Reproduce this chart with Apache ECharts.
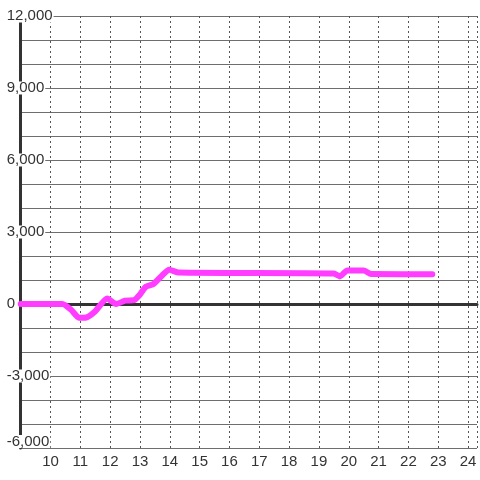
<!DOCTYPE html>
<html><head><meta charset="utf-8">
<script src="https://cdn.jsdelivr.net/npm/echarts@6/dist/echarts.min.js"></script>
<style>html,body{margin:0;padding:0;background:#fff}#c{width:480px;height:480px}</style>
</head><body><div id="c"></div>
<script>
var hours = [9, 10.4, 10.7, 10.95, 11.2, 11.5, 11.9, 12.2, 12.5, 12.8, 13.0, 13.2, 13.45, 13.75, 13.98, 14.3, 19.5, 19.7, 19.95, 20.5, 20.75, 22.8];
var values = [0, 0, -250, -570, -560, -300, 230, 0, 140, 160, 400, 720, 830, 1200, 1430, 1310, 1270, 1150, 1400, 1400, 1250, 1240];
var xTicks = [10,11,12,13,14,15,16,17,18,19,20,21,22,23,24];
var yTicks = [-6000,-3000,0,3000,6000,9000,12000];

var font = 'Liberation Sans, Arial, sans-serif';
var chart = echarts.init(document.getElementById('c'));
var pts = hours.map(function(h,i){return [h, values[i]];});
chart.setOption({
  animation: false,
  backgroundColor: '#ffffff',
  grid: {left: 20.7, right: 0, top: 16, bottom: 32},
  xAxis: [{
    type: 'value', min: 9, max: 24.3, interval: 1,
    axisLine: {show: false}, axisTick: {show: false},
    axisLabel: {color: '#333', fontSize: 15, fontFamily: font, margin: 6,
      formatter: function(v){ return xTicks.indexOf(v) >= 0 ? String(v) : ''; }},
    splitLine: {show: true, lineStyle: {color: '#555', width: 1, type: [2,3]}}
  }, {
    type: 'value', min: 9, max: 24.3, interval: 1, position: 'bottom',
    axisLine: {show: true, onZero: true, lineStyle: {color: '#333', width: 3}},
    axisTick: {show: false}, axisLabel: {show: false}, splitLine: {show: false}
  }],
  yAxis: [{
    type: 'value', min: -6000, max: 12000, interval: 1000,
    axisLine: {show: false}, axisTick: {show: false}, axisLabel: {show: false},
    splitLine: {show: true, lineStyle: {color: '#6e6e6e', width: 1}}
  }, {
    type: 'value', min: -6000, max: 12000, interval: 3000, position: 'left', z: 3,
    axisLine: {show: true, lineStyle: {color: '#333', width: 3}},
    axisTick: {show: false}, splitLine: {show: false},
    axisLabel: {
      color: '#333', fontSize: 15, fontFamily: font, align: 'left', margin: 15,
      backgroundColor: '#ffffff', padding: [0,1], lineHeight: 13,
      verticalAlignMinLabel: 'bottom',
      formatter: function(v){ return yTicks.indexOf(v) >= 0 ? v.toLocaleString('en-US') : ''; }
    }
  }],
  series: [{
    type: 'line', xAxisIndex: 0, yAxisIndex: 0, z: 5,
    data: pts, showSymbol: false, symbol: 'none', smooth: 0.2,
    lineStyle: {color: '#ff3cff', width: 6, cap: 'round', join: 'round'}
  }]
});
</script></body></html>
